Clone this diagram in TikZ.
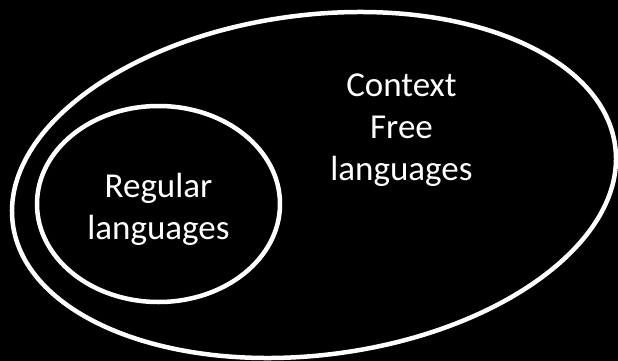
\documentclass[tikz,border=0pt]{standalone}
\usepackage{fontspec}
\setmainfont{Carlito}
\usetikzlibrary{shapes.geometric}
\begin{document}
\begin{tikzpicture}[x=1pt,y=-1pt,
  setring/.style={draw=white, line width=4.5pt, ellipse, inner sep=0pt, outer sep=0pt},
  setlabel/.style={text=white, align=center, font=\fontsize{35}{42}\selectfont, inner sep=0pt}]
  \fill[black] (0,0) rectangle (618,361);
  \useasboundingbox (0,0) rectangle (618,361);
  \node[setring, minimum width=607.4pt, minimum height=340pt, rotate=7.3] (cfl) at (314,185) {};
  \node[setring, minimum width=243pt, minimum height=196pt] (reg) at (158.5,204) {};
  \node[setlabel] (cfltext) at (401.5,130.5) {Context\\Free\\languages};
  \node[setlabel] (regtext) at (158.5,209.5) {Regular\\languages};
\end{tikzpicture}
\end{document}
